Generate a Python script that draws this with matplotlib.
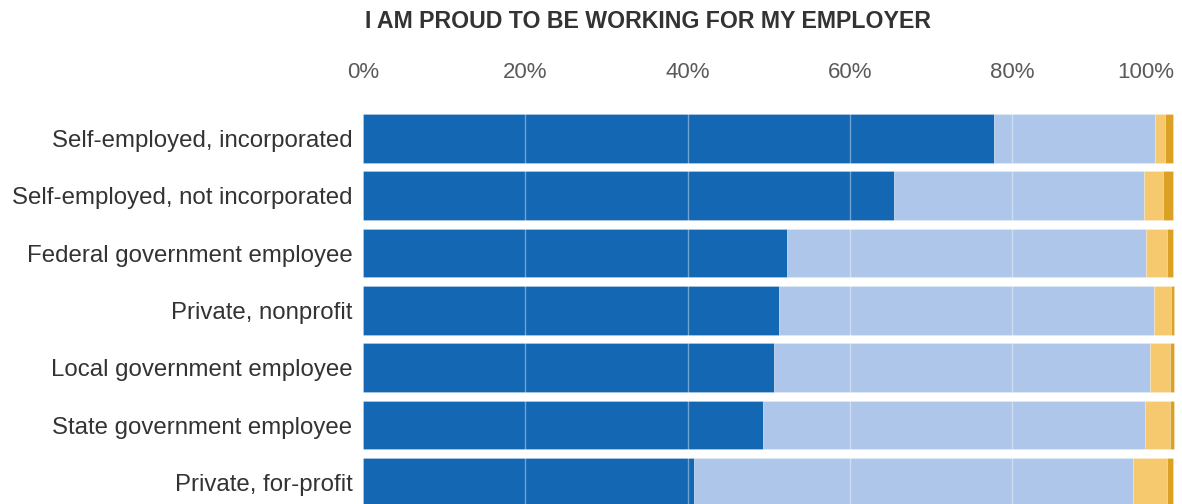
import matplotlib
matplotlib.use("Agg")
import matplotlib.pyplot as plt
import numpy as np

categories = [
    "Self-employed, incorporated",
    "Self-employed, not incorporated",
    "Federal government employee",
    "Private, nonprofit",
    "Local government employee",
    "State government employee",
    "Private, for-profit",
]
strongly_agree = [77.7, 65.4, 52.3, 51.3, 50.7, 49.3, 40.8]
agree = [19.9, 30.8, 44.2, 46.1, 46.3, 47.1, 54.1]
disagree = [1.2, 2.4, 2.6, 2.2, 2.4, 3.0, 4.1]
strongly_disagree = [1.0, 1.2, 0.7, 0.3, 0.5, 0.5, 0.8]

tick_values = [0, 20, 40, 60, 80, 100]
tick_labels = ["0%", "20%", "40%", "60%", "80%", "100%"]
title = "I AM PROUD TO BE WORKING FOR MY EMPLOYER"

series = [strongly_agree, agree, disagree, strongly_disagree]
colors = ["#1467b3", "#adc6e9", "#f6c96f", "#dba124"]

W, H = 1182, 504
fig = plt.figure(figsize=(W / 100, H / 100), dpi=100)
fig.patch.set_facecolor("white")

left_px, right_px = 362.7, 1174.7
top_px, bottom_px = 114.0, 504.0
ax = fig.add_axes([left_px / W, 1 - bottom_px / H,
                   (right_px - left_px) / W, (bottom_px - top_px) / H])

y = np.arange(len(categories))
bar_h = 0.85
left = np.zeros(len(categories))
for vals, col in zip(series, colors):
    vals = np.asarray(vals)
    ax.barh(y, vals, left=left, height=bar_h, color=col,
            edgecolor=(1, 1, 1, 0.25), linewidth=0.6, zorder=2)
    left += vals

for v in tick_values[1:-1]:
    ax.axvline(v, color="white", alpha=0.4, linewidth=1.0, zorder=3)

pitch_px = 57.33
ax.set_xlim(0, 100)
ax.set_ylim(-bar_h / 2 + (bottom_px - top_px) / pitch_px, -bar_h / 2)

ax.set_yticks(y)
ax.set_yticklabels(categories, fontsize=17.3, color="#333333",
                   family=["Liberation Sans", "DejaVu Sans"])
ax.tick_params(axis="y", length=0, pad=7.5)

ax.xaxis.tick_top()
ax.set_xticks(tick_values)
ax.set_xticklabels(tick_labels, fontsize=16, color="#5a5a5a",
                   family=["Liberation Sans", "DejaVu Sans"])
ax.tick_params(axis="x", length=0, pad=22.5)
ax.get_xticklabels()[-1].set_horizontalalignment("right")

for s in ax.spines.values():
    s.set_visible(False)

fig.text(365 / W, 1 - 21.3 / H, title, ha="left", va="center",
         fontsize=16.7, fontweight="bold", color="#333333",
         family=["Liberation Sans", "DejaVu Sans"])

fig.savefig("out.png", dpi=100, facecolor="white")
